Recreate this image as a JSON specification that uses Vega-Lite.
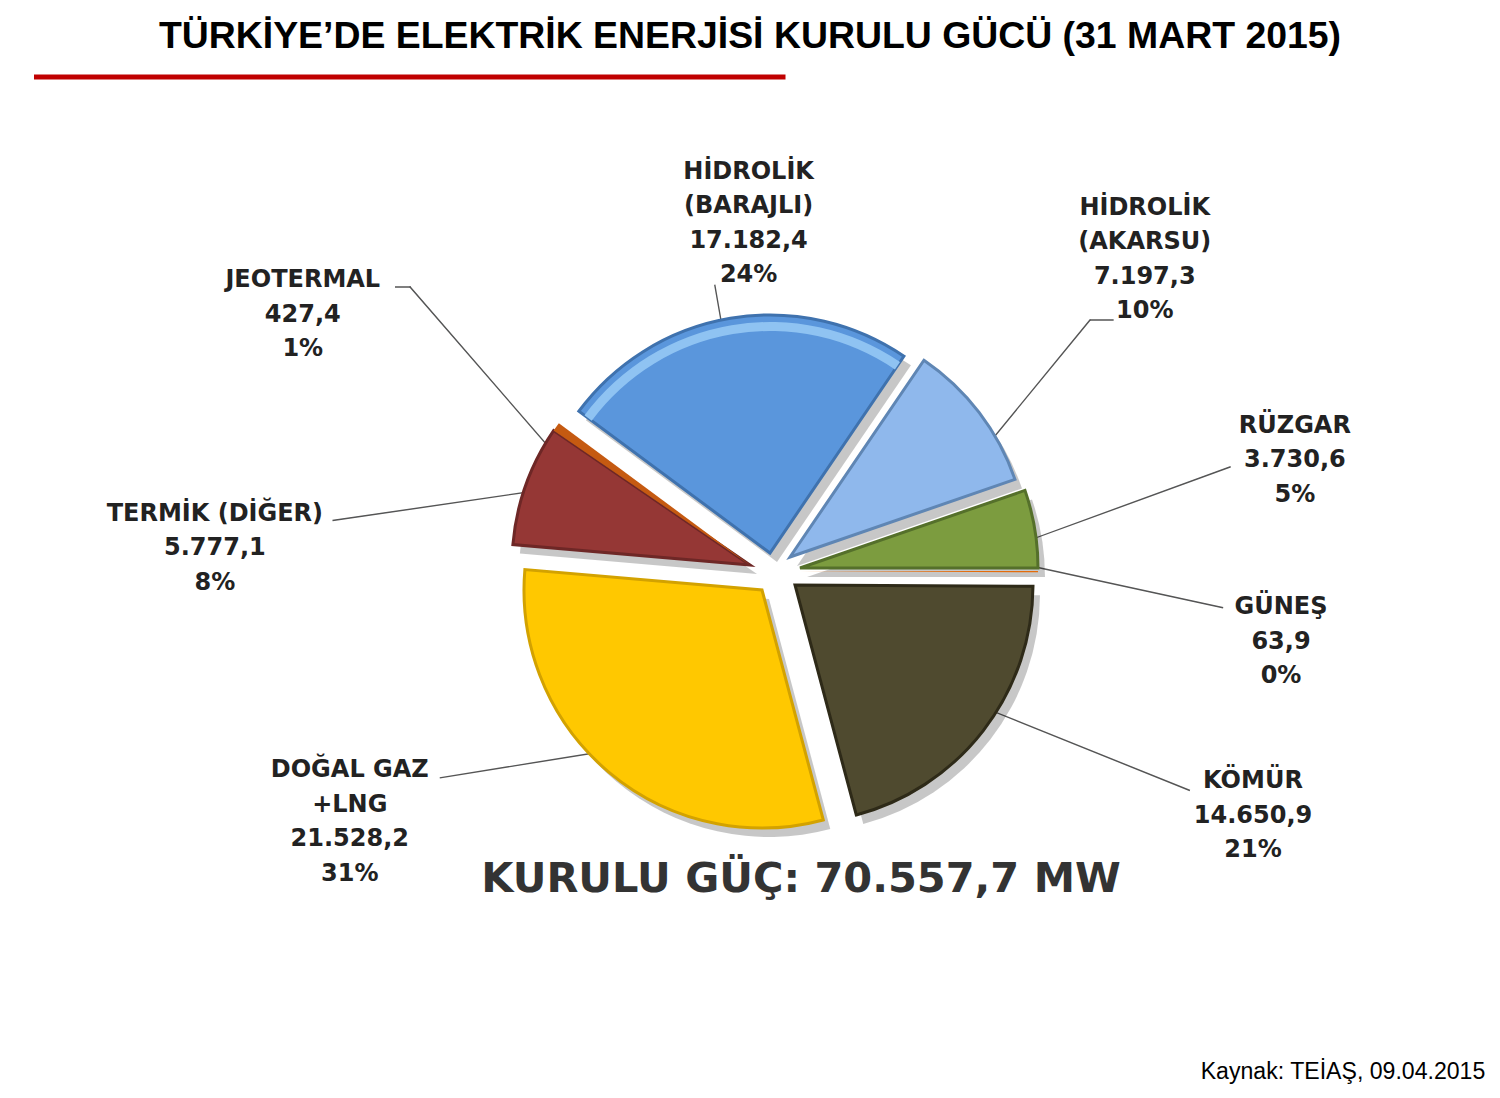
{"$schema":"https://vega.github.io/schema/vega-lite/v6.json","width":1500,"height":1098,"padding":0,"autosize":"none","background":"white","view":{"stroke":null},
"title":{"text":"TÜRKİYE’DE ELEKTRİK ENERJİSİ KURULU GÜCÜ (31 MART 2015)","font":"Liberation Sans","fontSize":37.4,"fontWeight":"bold","color":"#000000","anchor":"middle","offset":-55},
"data":{"values":[
{"kaynak":"GÜNEŞ","sira":1,"deger":63.9,"etiket":"GÜNEŞ\n63,9\n0%"},
{"kaynak":"KÖMÜR","sira":2,"deger":14650.9,"etiket":"KÖMÜR\n14.650,9\n21%"},
{"kaynak":"DOĞAL GAZ","sira":3,"deger":21528.2,"etiket":"DOĞAL GAZ\n+LNG\n21.528,2\n31%"},
{"kaynak":"TERMİK","sira":4,"deger":5777.1,"etiket":"TERMİK (DİĞER)\n5.777,1\n8%"},
{"kaynak":"JEOTERMAL","sira":5,"deger":427.4,"etiket":"JEOTERMAL\n427,4\n1%"},
{"kaynak":"BARAJLI","sira":6,"deger":17182.4,"etiket":"HİDROLİK\n(BARAJLI)\n17.182,4\n24%"},
{"kaynak":"AKARSU","sira":7,"deger":7197.3,"etiket":"HİDROLİK\n(AKARSU)\n7.197,3\n10%"},
{"kaynak":"RÜZGAR","sira":8,"deger":3730.6,"etiket":"RÜZGAR\n3.730,6\n5%"}
]},
"transform":[{"stack":"deger","groupby":[],"sort":[{"field":"sira","order":"ascending"}],"as":["s0","s1"]}],
"layer":[
{"transform":[{"filter":"datum.kaynak==='BARAJLI'"}],"mark":{"type":"arc","theta":1.5708,"theta2":1.5709,"innerRadius":0,"outerRadius":749,"stroke":"#C00000","strokeWidth":5,"xOffset":-716,"yOffset":-472},"encoding":{}},
{"layer":[
{"transform":[{"filter":"datum.kaynak==='BARAJLI'"}],"mark":{"type":"arc","theta":6.1096,"theta2":6.1106,"innerRadius":0,"outerRadius":88,"stroke":"#555555","strokeWidth":1.3,"xOffset":-20,"yOffset":-177},"encoding":{}},
{"transform":[{"filter":"datum.kaynak==='AKARSU'"}],"mark":{"type":"arc","theta":0.686,"theta2":0.687,"innerRadius":0,"outerRadius":172,"stroke":"#555555","strokeWidth":1.3,"xOffset":231,"yOffset":-96},"encoding":{}},
{"transform":[{"filter":"datum.kaynak==='AKARSU'"}],"mark":{"type":"arc","theta":1.5708,"theta2":1.5718,"innerRadius":0,"outerRadius":23,"stroke":"#555555","strokeWidth":1.3,"xOffset":340,"yOffset":-229},"encoding":{}},
{"transform":[{"filter":"datum.kaynak==='RÜZGAR'"}],"mark":{"type":"arc","theta":1.22,"theta2":1.221,"innerRadius":0,"outerRadius":213,"stroke":"#555555","strokeWidth":1.3,"xOffset":280,"yOffset":-9},"encoding":{}},
{"transform":[{"filter":"datum.kaynak==='GÜNEŞ'"}],"mark":{"type":"arc","theta":1.784,"theta2":1.785,"innerRadius":0,"outerRadius":196,"stroke":"#555555","strokeWidth":1.3,"xOffset":281,"yOffset":17},"encoding":{}},
{"transform":[{"filter":"datum.kaynak==='KÖMÜR'"}],"mark":{"type":"arc","theta":1.953,"theta2":1.954,"innerRadius":0,"outerRadius":231,"stroke":"#555555","strokeWidth":1.3,"xOffset":225,"yOffset":155},"encoding":{}},
{"transform":[{"filter":"datum.kaynak==='DOĞAL GAZ'"}],"mark":{"type":"arc","theta":4.552,"theta2":4.553,"innerRadius":0,"outerRadius":187,"stroke":"#555555","strokeWidth":1.3,"xOffset":-125,"yOffset":199},"encoding":{}},
{"transform":[{"filter":"datum.kaynak==='TERMİK'"}],"mark":{"type":"arc","theta":4.567,"theta2":4.568,"innerRadius":0,"outerRadius":204,"stroke":"#555555","strokeWidth":1.3,"xOffset":-215,"yOffset":-58},"encoding":{}},
{"transform":[{"filter":"datum.kaynak==='JEOTERMAL'"}],"mark":{"type":"arc","theta":5.569,"theta2":5.57,"innerRadius":0,"outerRadius":229,"stroke":"#555555","strokeWidth":1.3,"xOffset":-190,"yOffset":-89},"encoding":{}},
{"transform":[{"filter":"datum.kaynak==='JEOTERMAL'"}],"mark":{"type":"arc","theta":1.5708,"theta2":1.5718,"innerRadius":0,"outerRadius":15,"stroke":"#555555","strokeWidth":1.3,"xOffset":-355,"yOffset":-262},"encoding":{}}
]},
{"encoding":{"theta":{"field":"s0","type":"quantitative","scale":{"domain":[0,70557.8],"range":[1.5708,7.854]}},"theta2":{"field":"s1"}},
"layer":[
{"transform":[{"filter":"datum.kaynak==='BARAJLI'"}],"mark":{"type":"arc","outerRadius":238,"color":"#000000","opacity":0.22,"xOffset":27,"yOffset":13}},
{"transform":[{"filter":"datum.kaynak==='AKARSU'"}],"mark":{"type":"arc","outerRadius":238,"color":"#000000","opacity":0.22,"xOffset":47,"yOffset":17}},
{"transform":[{"filter":"datum.kaynak==='RÜZGAR'"}],"mark":{"type":"arc","outerRadius":238,"color":"#000000","opacity":0.22,"xOffset":57,"yOffset":28}},
{"transform":[{"filter":"datum.kaynak==='KÖMÜR'"}],"mark":{"type":"arc","outerRadius":238,"color":"#000000","opacity":0.22,"xOffset":52,"yOffset":45}},
{"transform":[{"filter":"datum.kaynak==='DOĞAL GAZ'"}],"mark":{"type":"arc","outerRadius":238,"color":"#000000","opacity":0.22,"xOffset":19,"yOffset":50}},
{"transform":[{"filter":"datum.kaynak==='TERMİK'"}],"mark":{"type":"arc","outerRadius":238,"color":"#000000","opacity":0.22,"xOffset":7,"yOffset":25}},
{"transform":[{"filter":"datum.kaynak==='BARAJLI'"}],"mark":{"type":"arc","outerRadius":238,"color":"#5A96DC","stroke":"#3F72AE","strokeWidth":3,"xOffset":20,"yOffset":4}},
{"transform":[{"filter":"datum.kaynak==='BARAJLI'"}],"mark":{"type":"arc","innerRadius":222,"outerRadius":231,"color":"#8FC3F2","xOffset":20,"yOffset":4}},
{"transform":[{"filter":"datum.kaynak==='AKARSU'"}],"mark":{"type":"arc","outerRadius":238,"color":"#8FB8EC","stroke":"#5F86B4","strokeWidth":3,"xOffset":40,"yOffset":8}},
{"transform":[{"filter":"datum.kaynak==='RÜZGAR'"}],"mark":{"type":"arc","outerRadius":238,"color":"#7C9C3F","stroke":"#55702B","strokeWidth":3,"xOffset":50,"yOffset":19}},
{"transform":[{"filter":"datum.kaynak==='GÜNEŞ'"}],"mark":{"type":"arc","outerRadius":238,"color":"#E46C0A","xOffset":50,"yOffset":22}},
{"transform":[{"filter":"datum.kaynak==='KÖMÜR'"}],"mark":{"type":"arc","outerRadius":238,"color":"#4F4A2F","stroke":"#2E2A18","strokeWidth":3,"xOffset":45,"yOffset":36}},
{"transform":[{"filter":"datum.kaynak==='DOĞAL GAZ'"}],"mark":{"type":"arc","outerRadius":238,"color":"#FFC800","stroke":"#D3A200","strokeWidth":3,"xOffset":12,"yOffset":41}},
{"transform":[{"filter":"datum.kaynak==='TERMİK'"}],"mark":{"type":"arc","outerRadius":238,"color":"#953735","stroke":"#6E2726","strokeWidth":3,"xOffset":0,"yOffset":16}},
{"transform":[{"filter":"datum.kaynak==='JEOTERMAL'"}],"mark":{"type":"arc","outerRadius":238,"color":"#C55A11","xOffset":0,"yOffset":16}},
{"encoding":{"text":{"field":"etiket"}},"transform":[{"filter":"datum.kaynak==='BARAJLI'"}],"mark":{"type":"text","lineBreak":"\n","lineHeight":34.5,"font":"DejaVu Sans","fontWeight":"bold","fontSize":24,"color":"#222222","radius":323,"dx":258,"dy":-185}},
{"encoding":{"text":{"field":"etiket"}},"transform":[{"filter":"datum.kaynak==='AKARSU'"}],"mark":{"type":"text","lineBreak":"\n","lineHeight":34.5,"font":"DejaVu Sans","fontWeight":"bold","fontSize":24,"color":"#222222","radius":490,"dx":119,"dy":64}},
{"encoding":{"text":{"field":"etiket"}},"transform":[{"filter":"datum.kaynak==='RÜZGAR'"}],"mark":{"type":"text","lineBreak":"\n","lineHeight":34.5,"font":"DejaVu Sans","fontWeight":"bold","fontSize":24,"color":"#222222","radius":552,"dx":23,"dy":57}},
{"encoding":{"text":{"field":"etiket"}},"transform":[{"filter":"datum.kaynak==='GÜNEŞ'"}],"mark":{"type":"text","lineBreak":"\n","lineHeight":34.5,"font":"DejaVu Sans","fontWeight":"bold","fontSize":24,"color":"#222222","radius":531,"dx":0,"dy":58}},
{"encoding":{"text":{"field":"etiket"}},"transform":[{"filter":"datum.kaynak==='KÖMÜR'"}],"mark":{"type":"text","lineBreak":"\n","lineHeight":34.5,"font":"DejaVu Sans","fontWeight":"bold","fontSize":24,"color":"#222222","radius":560,"dx":-57,"dy":229}},
{"encoding":{"text":{"field":"etiket"}},"transform":[{"filter":"datum.kaynak==='DOĞAL GAZ'"}],"mark":{"type":"text","lineBreak":"\n","lineHeight":34.5,"font":"DejaVu Sans","fontWeight":"bold","fontSize":24,"color":"#222222","radius":465,"dx":-520,"dy":-228}},
{"encoding":{"text":{"field":"etiket"}},"transform":[{"filter":"datum.kaynak==='TERMİK'"}],"mark":{"type":"text","lineBreak":"\n","lineHeight":34.5,"font":"DejaVu Sans","fontWeight":"bold","fontSize":24,"color":"#222222","radius":505,"dx":-32,"dy":8}},
{"encoding":{"text":{"field":"etiket"}},"transform":[{"filter":"datum.kaynak==='JEOTERMAL'"}],"mark":{"type":"text","lineBreak":"\n","lineHeight":34.5,"font":"DejaVu Sans","fontWeight":"bold","fontSize":24,"color":"#222222","radius":502,"dx":-33,"dy":15}}
]},
{"data":{"values":[{"metin":"KURULU GÜÇ: 70.557,7 MW"}]},"mark":{"type":"text","font":"DejaVu Sans","fontWeight":"bold","fontSize":41.5,"color":"#333333","dx":51,"dy":331},"encoding":{"text":{"field":"metin"}}},
{"data":{"values":[{"metin":"Kaynak: TEİAŞ, 09.04.2015"}]},"mark":{"type":"text","font":"Liberation Sans","fontSize":23.1,"color":"#000000","dx":593,"dy":523},"encoding":{"text":{"field":"metin"}}}
]}
